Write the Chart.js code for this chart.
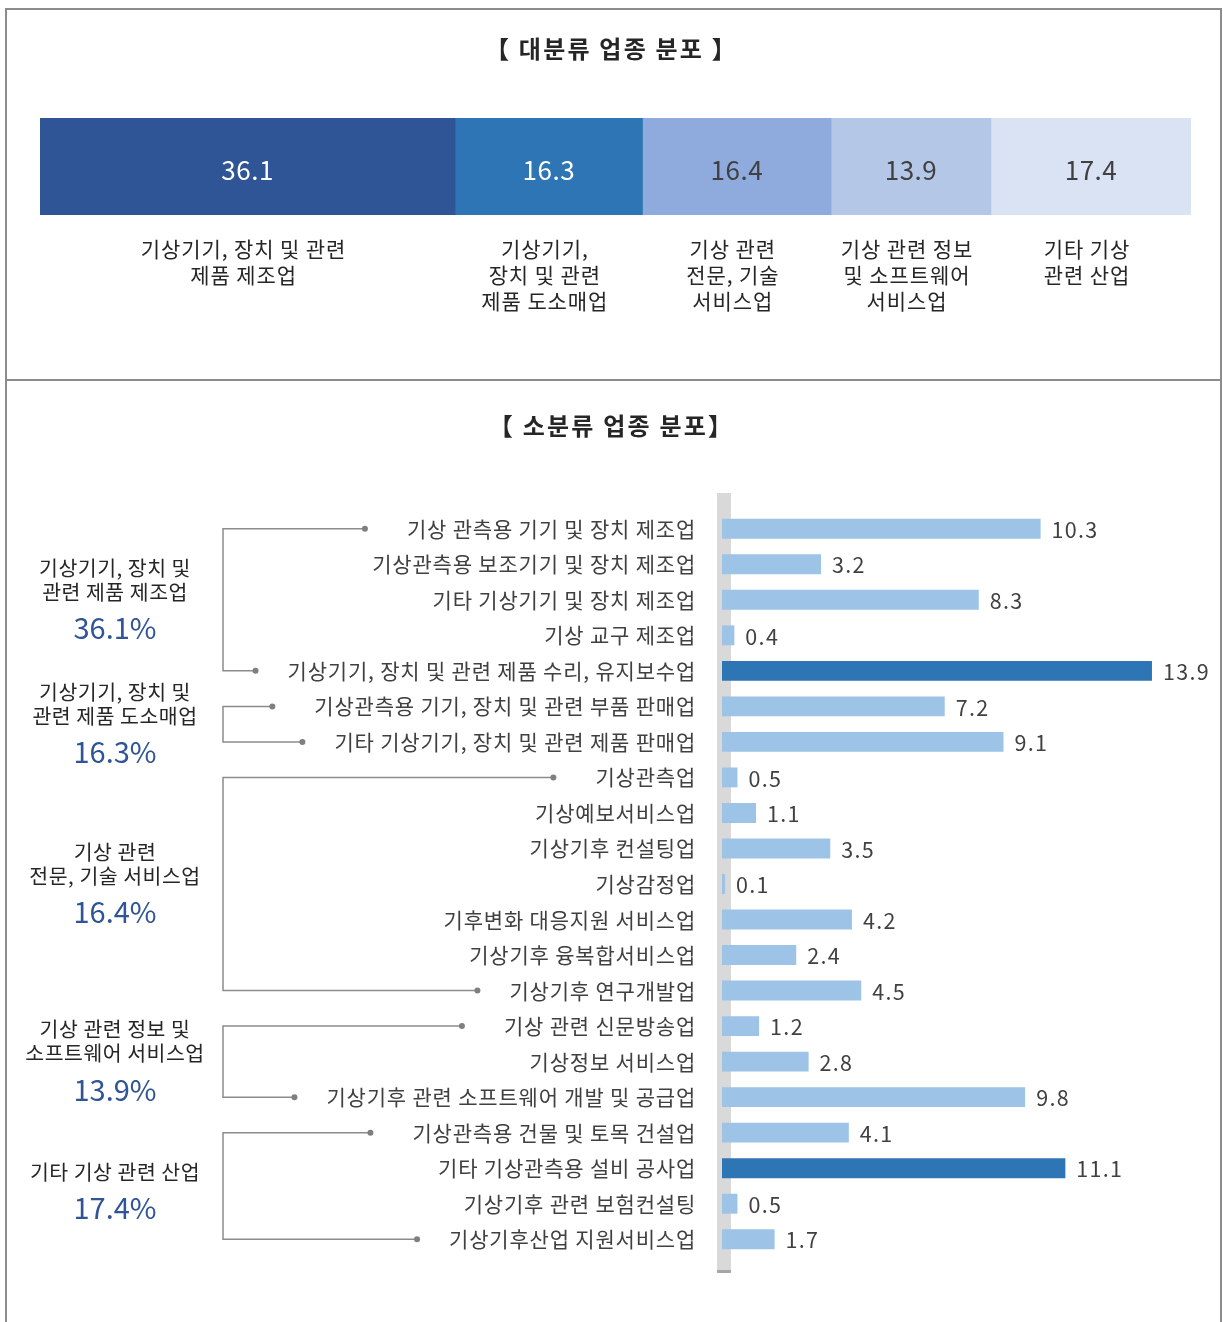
<!DOCTYPE html>
<html><head><meta charset="utf-8">
<script src="https://cdn.jsdelivr.net/npm/chart.js@4.4.1/dist/chart.umd.min.js"></script>
<style>
html,body{margin:0;padding:0;background:#fff;width:1223px;height:1322px;overflow:hidden;font-family:"Noto Sans CJK KR",sans-serif;}
#frame{position:absolute;left:5px;top:8px;width:1217px;height:1340px;border:2px solid #8c8c8c;box-sizing:border-box;}
#divider{position:absolute;left:5px;top:379px;width:1217px;height:2px;background:#8c8c8c;}
.title{position:absolute;left:0;width:1223px;text-align:center;font-weight:bold;font-size:24px;line-height:30px;color:#262626;letter-spacing:2.2px;}
#c1{position:absolute;left:0;top:0;}
#c2{position:absolute;left:0;top:381px;}
</style></head>
<body>
<div id="frame"></div>
<div id="divider"></div>
<canvas id="c1" width="1223" height="380"></canvas>
<canvas id="c2" width="1223" height="941"></canvas>
<div class="title" style="top:33px">【 대분류 업종 분포 】</div>
<div class="title" style="top:410px">【 소분류 업종 분포】</div>
<script>
// ---- data ----
const mainCategories = ['기상기기, 장치 및 관련 제품 제조업','기상기기, 장치 및 관련 제품 도소매업','기상 관련 전문, 기술 서비스업','기상 관련 정보 및 소프트웨어 서비스업','기타 기상 관련 산업'];
const mainLabelLines = [['기상기기, 장치 및 관련','제품 제조업'],['기상기기,','장치 및 관련','제품 도소매업'],['기상 관련','전문, 기술','서비스업'],['기상 관련 정보','및 소프트웨어','서비스업'],['기타 기상','관련 산업']];
const mainShares = [36.1, 16.3, 16.4, 13.9, 17.4];
const groupLabelLines = [['기상기기, 장치 및','관련 제품 제조업'],['기상기기, 장치 및','관련 제품 도소매업'],['기상 관련','전문, 기술 서비스업'],['기상 관련 정보 및','소프트웨어 서비스업'],['기타 기상 관련 산업']];
const groupSizes = [5, 2, 7, 3, 4];
const subCategories = ['기상 관측용 기기 및 장치 제조업','기상관측용 보조기기 및 장치 제조업','기타 기상기기 및 장치 제조업','기상 교구 제조업','기상기기, 장치 및 관련 제품 수리, 유지보수업','기상관측용 기기, 장치 및 관련 부품 판매업','기타 기상기기, 장치 및 관련 제품 판매업','기상관측업','기상예보서비스업','기상기후 컨설팅업','기상감정업','기후변화 대응지원 서비스업','기상기후 융복합서비스업','기상기후 연구개발업','기상 관련 신문방송업','기상정보 서비스업','기상기후 관련 소프트웨어 개발 및 공급업','기상관측용 건물 및 토목 건설업','기타 기상관측용 설비 공사업','기상기후 관련 보험컨설팅','기상기후산업 지원서비스업'];
const subShares = [10.3, 3.2, 8.3, 0.4, 13.9, 7.2, 9.1, 0.5, 1.1, 3.5, 0.1, 4.2, 2.4, 4.5, 1.2, 2.8, 9.8, 4.1, 11.1, 0.5, 1.7];

// ---- styles ----
const FONT = '"Noto Sans CJK KR", sans-serif';
const mainColors = ['#2F5597','#2E75B6','#8FAADC','#B4C7E7','#DAE3F3'];
const mainTextColors = ['#ffffff','#ffffff','#404040','#404040','#404040'];
const barLight = '#9DC3E6', barDark = '#2E75B6';
const textGray = '#404040';
const lineGray = '#8c8c8c';

// ---- top stacked bar ----
const total = mainShares.reduce((a,b)=>a+b,0);
const topPlugin = {
  id:'topLabels',
  afterDatasetsDraw(chart){
    const ctx = chart.ctx;
    ctx.save();
    chart.data.datasets.forEach((ds,i)=>{
      const el = chart.getDatasetMeta(i).data[0];
      const cx = (el.x + el.base)/2;
      ctx.letterSpacing = '0.5px';
      ctx.font = '26px ' + FONT;
      ctx.fillStyle = mainTextColors[i];
      ctx.textAlign = 'center';
      ctx.textBaseline = 'middle';
      ctx.fillText(String(ds.data[0]), cx, el.y + 4);
      ctx.letterSpacing = '0.9px';
      ctx.font = '21px ' + FONT;
      ctx.fillStyle = '#262626';
      mainLabelLines[i].forEach((ln,k)=>{
        ctx.fillText(ln, cx - 4, chart.chartArea.bottom + 34 + k*26);
      });
    });
    ctx.restore();
  }
};
new Chart(document.getElementById('c1'), {
  type:'bar',
  data:{labels:['대분류'], datasets: mainShares.map((v,i)=>({label:mainCategories[i], data:[v], backgroundColor:mainColors[i], barPercentage:1, categoryPercentage:1, borderWidth:0}))},
  options:{
    indexAxis:'y', responsive:false, animation:false,
    layout:{padding:{left:40,right:32,top:118,bottom:165}},
    scales:{x:{stacked:true,display:false,min:0,max:total}, y:{stacked:true,display:false}},
    plugins:{legend:{display:false},tooltip:{enabled:false}}
  },
  plugins:[topPlugin]
});

// ---- bottom horizontal bars ----
const sorted = subShares.slice().sort((a,b)=>b-a);
const subColors = subShares.map(v => v >= sorted[1] ? barDark : barLight);
const BRACKET_X = 223, GROUP_X = 115, TICK_PAD = 26;
const TICK_SPACING = '0.8px';

const bottomPlugin = {
  id:'bottomDeco',
  beforeDraw(chart){
    chart.ctx.letterSpacing = TICK_SPACING;
  },
  beforeDatasetsDraw(chart){
    const {ctx, chartArea} = chart;
    ctx.save();
    ctx.fillStyle = '#d9d9d9';
    ctx.fillRect(chartArea.left - 5, chartArea.top - 18, 14, chartArea.bottom - chartArea.top + 34);
    ctx.fillStyle = '#a6a6a6';
    ctx.fillRect(chartArea.left - 5, chartArea.bottom + 13, 14, 3);
    ctx.restore();
  },
  afterDatasetsDraw(chart){
    const {ctx} = chart;
    const meta = chart.getDatasetMeta(0);
    ctx.save();
    ctx.letterSpacing = '1.3px';
    ctx.font = '21.5px ' + FONT;
    ctx.fillStyle = textGray;
    ctx.textAlign = 'left';
    ctx.textBaseline = 'middle';
    meta.data.forEach((el,i)=>{
      ctx.fillText(String(subShares[i]), el.x + 11, el.y + 1);
    });
    ctx.restore();
  },
  afterDraw(chart){
    const {ctx, chartArea} = chart;
    const y = chart.scales.y;
    ctx.save();
    const labelRight = chartArea.left - TICK_PAD;
    let s = 0;
    groupSizes.forEach((n,g)=>{
      const e = s + n - 1;
      const yT = y.getPixelForValue(s), yB = y.getPixelForValue(e);
      ctx.letterSpacing = TICK_SPACING;
      ctx.font = '21px ' + FONT;
      const xT = labelRight - ctx.measureText(subCategories[s]).width - 42;
      const xB = labelRight - ctx.measureText(subCategories[e]).width - 32;
      ctx.strokeStyle = lineGray; ctx.lineWidth = 1.5;
      ctx.beginPath();
      ctx.moveTo(xT, yT); ctx.lineTo(BRACKET_X, yT); ctx.lineTo(BRACKET_X, yB); ctx.lineTo(xB, yB);
      ctx.stroke();
      ctx.fillStyle = '#7f7f7f';
      [[xT,yT],[xB,yB]].forEach(p=>{ctx.beginPath(); ctx.arc(p[0],p[1],3,0,Math.PI*2); ctx.fill();});
      // group label
      const lines = groupLabelLines[g];
      const span = (lines.length-1)*24 + 36;
      const yc = (yT + yB)/2;
      const y0 = yc - span/2 - 2 + (lines.length === 1 ? 6 : 0);
      ctx.textAlign = 'center'; ctx.textBaseline = 'middle';
      ctx.letterSpacing = '0.5px';
      ctx.font = '20.5px ' + FONT; ctx.fillStyle = '#262626';
      lines.forEach((ln,k)=> ctx.fillText(ln, GROUP_X, y0 + k*24));
      ctx.letterSpacing = '0px';
      ctx.font = '29px ' + FONT; ctx.fillStyle = '#2F5597';
      ctx.fillText(mainShares[g].toFixed(1) + '%', GROUP_X, y0 + (lines.length-1)*24 + 36);
      s += n;
    });
    ctx.restore();
  }
};

new Chart(document.getElementById('c2'), {
  type:'bar',
  data:{labels:subCategories, datasets:[{data:subShares, backgroundColor:subColors, borderWidth:0, barPercentage:0.56, categoryPercentage:1}]},
  options:{
    indexAxis:'y', responsive:false, animation:false,
    layout:{padding:{left:0,right:37,top:130,bottom:65}},
    scales:{
      x:{display:false,min:0,max:15},
      y:{
        grid:{display:false,drawTicks:false}, border:{display:false},
        ticks:{font:{family:FONT,size:21},color:textGray,padding:TICK_PAD,autoSkip:false},
        afterFit(scale){scale.width = 722;}
      }
    },
    plugins:{legend:{display:false},tooltip:{enabled:false}}
  },
  plugins:[bottomPlugin]
});
</script>
</body></html>
